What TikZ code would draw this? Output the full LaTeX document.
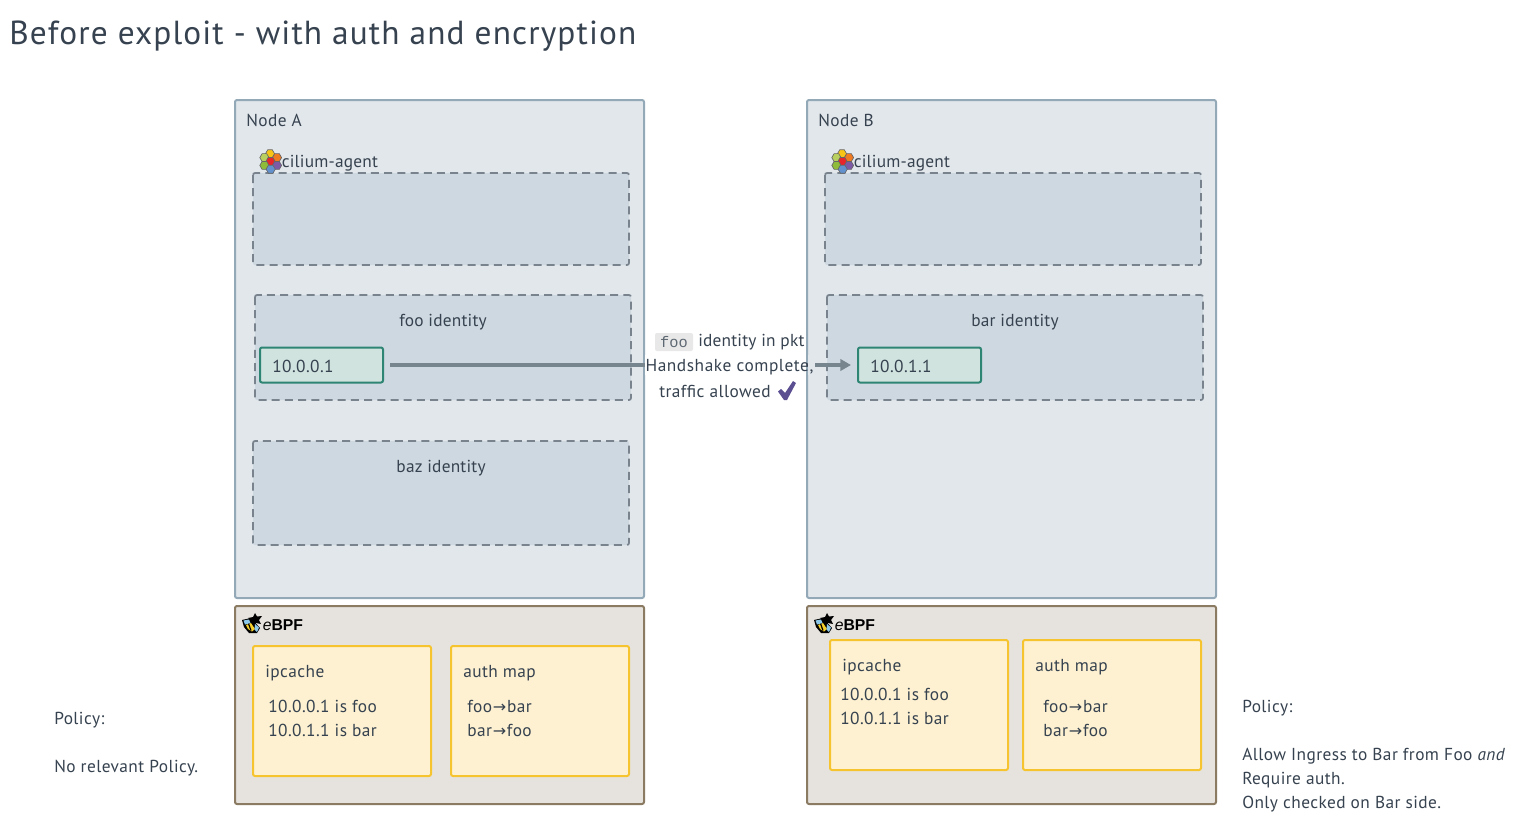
\documentclass[tikz,border=0pt]{standalone}
\usepackage{fontspec}
\setmainfont{PT Sans}
\newfontfamily\titlefont[LetterSpace=3.4]{PT Sans}
\newfontfamily\bodyfont[LetterSpace=2.5]{PT Sans}
\newfontfamily\tightfont[LetterSpace=1.2]{PT Sans}
\newfontfamily\widefont[LetterSpace=3.2]{PT Sans}
\newfontfamily\codefont{Liberation Mono}
\newfontfamily\ebpffont{Liberation Sans}
\newfontfamily\arrowfont{DejaVu Sans}
\newcommand{\toarrow}{\kern.6pt{\arrowfont\fontsize{12}{18}\selectfont →}\kern.6pt}
\usetikzlibrary{arrows.meta,shapes.geometric}
\definecolor{ink}{HTML}{36424F}
\definecolor{nodefill}{HTML}{E2E7EB}
\definecolor{nodeline}{HTML}{93A9B8}
\definecolor{dashfill}{HTML}{CDD8E1}
\definecolor{dashline}{HTML}{78838E}
\definecolor{ipfill}{HTML}{D0E3DF}
\definecolor{ipline}{HTML}{2F8573}
\definecolor{bpffill}{HTML}{E6E3DE}
\definecolor{bpfline}{HTML}{8A7B62}
\definecolor{mapfill}{HTML}{FDF1D1}
\definecolor{mapline}{HTML}{F6C42F}
\definecolor{arrowc}{HTML}{77858F}
\definecolor{checkc}{HTML}{5B4F92}
\definecolor{hexA}{HTML}{F8C517}
\definecolor{hexB}{HTML}{B9CF5E}
\definecolor{hexC}{HTML}{EE7A22}
\definecolor{hexD}{HTML}{E82629}
\definecolor{hexE}{HTML}{8FBB3A}
\definecolor{hexF}{HTML}{7D5AA6}
\definecolor{hexG}{HTML}{6291CE}
\definecolor{wing}{HTML}{8CC8EA}
\definecolor{beey}{HTML}{F5CF2A}
\tikzset{
  x=0.75pt,y=-0.75pt,
  every node/.style={font=\bodyfont\fontsize{13}{18}\selectfont,text=ink,inner sep=0pt},
  lbl/.style={anchor=west,align=left},
  ctr/.style={anchor=center,align=center},
  nodebox/.style={draw=nodeline,fill=nodefill,line width=1.5pt,rounded corners=1.5pt},
  bpfbox/.style={draw=bpfline,fill=bpffill,line width=1.5pt,rounded corners=1.5pt},
  dashbox/.style={draw=dashline,fill=dashfill,line width=1.3pt,dash pattern=on 6pt off 3.9pt,rounded corners=1.5pt},
  mapbox/.style={draw=mapline,fill=mapfill,line width=1.5pt,rounded corners=1.5pt},
  ipbox/.style={draw=ipline,fill=ipfill,line width=1.5pt,rounded corners=1.5pt,minimum width=92.25pt,minimum height=26.25pt,anchor=center},
  link/.style={draw=arrowc,line width=2.8pt,-{Triangle[length=8pt,width=8.5pt]}},
  hexa/.style={regular polygon,regular polygon sides=6,minimum size=6.9pt,draw=black!60,line width=.5pt},
}
\newcommand{\ciliumlogo}[2]{%
  \begin{scope}[shift={(#1,#2)}]
    \node[hexa,fill=hexA] at (10,0.8) {};
    \node[hexa,fill=hexB] at (4.4,4.6) {};
    \node[hexa,fill=hexC] at (17,4.6) {};
    \node[hexa,fill=hexD] at (10.5,8.4) {};
    \node[hexa,fill=hexE] at (4.4,12.4) {};
    \node[hexa,fill=hexF] at (17,12.4) {};
    \node[hexa,fill=hexG] at (10.7,16.2) {};
  \end{scope}}
\newcommand{\ebpflogo}[2]{%
  \begin{scope}[shift={(#1,#2)}]
    \fill[black] (13,-6) -- (15,-2.5) -- (20,-3) -- (17,1) -- (19,5) -- (14,4) -- (11,7) -- (10,2) -- (6,-1) -- (11,-2) -- cycle;
    \fill[black] (0,1) -- (9,-1) -- (18,9) -- (15,14) -- (7,14) -- (2,8) -- cycle;
    \fill[beey] (4,6) -- (9,4) -- (13,10) -- (10,12.5) -- (6,10) -- cycle;
    \draw[black,line width=.9pt] (6.5,4.5) -- (9,11.5);
    \fill[wing] (1.5,1.5) -- (7,0.5) -- (8.5,4) -- (3,5.5) -- cycle;
    \fill[wing] (13,5) -- (17,8.5) -- (15,13) -- (12.5,10.5) -- cycle;
    \node[anchor=base west,text=black,font=\ebpffont\fontsize{11.8}{12}\selectfont] at (20.5,11) {\textit{e}\textbf{BPF}};
  \end{scope}}
\begin{document}
\begin{tikzpicture}
\useasboundingbox (0,0) rectangle (1517,822);
\fill[white] (0,0) rectangle (1517,822);
\node[lbl,font=\titlefont\fontsize{25}{30}\selectfont] (title) at (9,36) {Before exploit - with auth and encryption};

% Node A
\draw[nodebox] (235,100) rectangle (644,598);
\node[lbl] (nodeA) at (246,120) {Node A};
\draw[dashbox] (253,173) rectangle (629,265);
\ciliumlogo{260}{153}
\node[lbl,font=\tightfont\fontsize{13}{18}\selectfont] (agentA) at (281.5,163) {cilium-agent};
\draw[dashbox] (255,295) rectangle (631,400);
\node[ctr,font=\tightfont\fontsize{13}{18}\selectfont] (fooid) at (443,322) {foo identity};
\node[ipbox] (ipA) at (321.5,365) {};
\node[lbl] (ipAt) at (272,366) {10.0.0.1};
\draw[dashbox] (253,441) rectangle (629,545);
\node[ctr,font=\tightfont\fontsize{13}{18}\selectfont] (bazid) at (441,468) {baz identity};

% Node B
\draw[nodebox] (807,100) rectangle (1216,598);
\node[lbl] (nodeB) at (818,120) {Node B};
\draw[dashbox] (825,173) rectangle (1201,265);
\ciliumlogo{832}{153}
\node[lbl,font=\tightfont\fontsize{13}{18}\selectfont] (agentB) at (853.5,163) {cilium-agent};
\draw[dashbox] (827,295) rectangle (1203,400);
\node[ctr,font=\tightfont\fontsize{13}{18}\selectfont] (barid) at (1015,322) {bar identity};
\node[ipbox] (ipB) at (919.5,365) {};
\node[lbl] (ipBt) at (870,366) {10.0.1.1};

% Connector and its label
\path[link,shorten <=4.5pt,shorten >=4.5pt] (ipA) -- (ipB);
\fill[white] (645,355) rectangle (806,375);
\fill[nodefill] (808,355) rectangle (815,375);
\node[fill=black!9,rounded corners=1.5pt,minimum width=28.5pt,minimum height=13.5pt,font=\codefont\fontsize{11.5}{14}\selectfont,text=ink!80] (foocode) at (674,342) {foo};
\node[lbl,font=\tightfont\fontsize{13}{18}\selectfont] (pkt) at (698,342) {identity in pkt};
\node[ctr,font=\widefont\fontsize{13}{18}\selectfont] (hand) at (729.5,367.5) {Handshake complete,};
\node[lbl] (traffic) at (659,391.5) {traffic allowed};
\fill[checkc] (778,391.5) -- (781,389) -- (785,393) -- (793,381) -- (796,383) -- (787,400) -- (784,400) -- cycle;

% eBPF A
\draw[bpfbox] (235,606) rectangle (644,804);
\ebpflogo{242}{619}
\draw[mapbox] (253,646) rectangle (431,776);
\node[lbl] (ipcA) at (265,673.5) {ipcache};
\node[lbl] (a1) at (268,706) {10.0.0.1 is foo};
\node[lbl] (a2) at (268,730) {10.0.1.1 is bar};
\draw[mapbox] (451,646) rectangle (629,776);
\node[lbl] (authA) at (463,673) {auth map};
\node[lbl] (a3) at (467,706) {foo\toarrow bar};
\node[lbl] (a4) at (467,730) {bar\toarrow foo};

% eBPF B
\draw[bpfbox] (807,606) rectangle (1216,804);
\ebpflogo{814}{619}
\draw[mapbox] (830,640) rectangle (1008,770);
\node[lbl] (ipcB) at (842,667.5) {ipcache};
\node[lbl] (b1) at (840,694) {10.0.0.1 is foo};
\node[lbl] (b2) at (840,718) {10.0.1.1 is bar};
\draw[mapbox] (1023,640) rectangle (1201,770);
\node[lbl] (authB) at (1035,667) {auth map};
\node[lbl] (b3) at (1043,706) {foo\toarrow bar};
\node[lbl] (b4) at (1043,730) {bar\toarrow foo};

% Policies
\node[lbl] (polA) at (54,720) {Policy:};
\node[lbl] (polAt) at (54,768) {No relevant Policy.};
\node[lbl] (polB) at (1242,708) {Policy:};
\node[lbl] (polB1) at (1242,756) {Allow Ingress to Bar from Foo \textit{and}};
\node[lbl] (polB2) at (1242,780) {Require auth.};
\node[lbl] (polB3) at (1242,804) {Only checked on Bar side.};
\end{tikzpicture}
\end{document}
